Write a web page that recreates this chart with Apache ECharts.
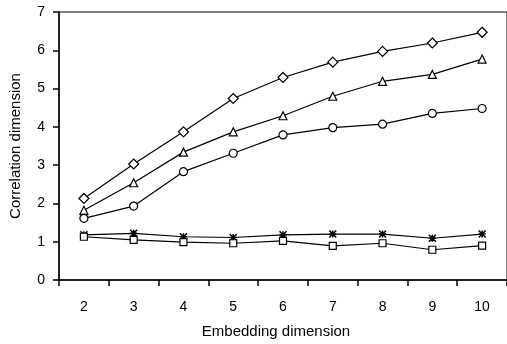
<!DOCTYPE html>
<html>
<head>
<meta charset="utf-8">
<script src="https://cdn.jsdelivr.net/npm/echarts@6/dist/echarts.min.js"></script>
<style>
  html, body { margin: 0; padding: 0; background: #fff; }
  #chart { width: 507px; height: 344px; }
</style>
</head>
<body>
<div id="chart"></div>
<script>
const dims = ['2', '3', '4', '5', '6', '7', '8', '9', '10']

const diamondVals = [2.13, 3.03, 3.87, 4.74, 5.29, 5.69, 5.97, 6.19, 6.47]
const triangleVals = [1.82, 2.54, 3.34, 3.87, 4.29, 4.80, 5.19, 5.37, 5.77]
const circleVals = [1.61, 1.93, 2.83, 3.31, 3.79, 3.98, 4.07, 4.35, 4.48]
const starVals = [1.18, 1.22, 1.13, 1.11, 1.18, 1.20, 1.20, 1.09, 1.20]
const squareVals = [1.13, 1.05, 0.99, 0.96, 1.02, 0.89, 0.96, 0.79, 0.90]

const FONT = 'Liberation Sans'
const ASTERISK = 'path://M0,0L10,10M10,0L0,10M5,0L5,10M0,5L10,5'

function line(name, data, symbol, size) {
  return {
    name: name,
    type: 'line',
    data: data,
    symbol: symbol,
    symbolSize: size,
    showAllSymbol: true,
    animation: false,
    lineStyle: { color: '#000', width: 1.2 },
    itemStyle: { color: '#fff', borderColor: '#000', borderWidth: 1.2 },
    z: 3
  }
}

const chart = echarts.init(document.getElementById('chart'))

const starSeries = line('star', starVals, ASTERISK, 7)
starSeries.itemStyle = { color: '#000', borderColor: '#000', borderWidth: 1.5 }

chart.setOption({
  backgroundColor: '#fff',
  grid: {
    left: 59, top: 12, right: -4, bottom: 62,
    show: true, borderColor: '#000', borderWidth: 1, backgroundColor: 'transparent'
  },
  xAxis: {
    type: 'category',
    data: dims,
    boundaryGap: true,
    name: 'Embedding dimension',
    nameLocation: 'middle',
    nameGap: 44,
    nameTextStyle: { color: '#000', fontSize: 15, fontFamily: FONT, padding: [0, 14, 0, 0] },
    axisLine: { lineStyle: { color: '#000', width: 1.5 } },
    axisTick: { show: true, length: 6, alignWithLabel: false, lineStyle: { color: '#000', width: 1.5 } },
    axisLabel: { color: '#000', fontSize: 14, fontFamily: FONT, margin: 20 },
    splitLine: { show: false }
  },
  yAxis: {
    type: 'value',
    min: 0, max: 7, interval: 1,
    name: 'Correlation dimension',
    nameLocation: 'middle',
    nameGap: 36,
    nameTextStyle: { color: '#000', fontSize: 15, fontFamily: FONT },
    axisLine: { show: true, lineStyle: { color: '#000', width: 1.5 } },
    axisTick: { show: true, length: 6, lineStyle: { color: '#000', width: 1.5 } },
    axisLabel: { color: '#000', fontSize: 14, fontFamily: FONT, margin: 14 },
    splitLine: { show: false }
  },
  series: [
    line('diamond', diamondVals, 'diamond', 10),
    line('triangle', triangleVals, 'triangle', 8),
    line('circle', circleVals, 'circle', 8),
    starSeries,
    line('square', squareVals, 'rect', 7)
  ]
})
</script>
</body>
</html>
